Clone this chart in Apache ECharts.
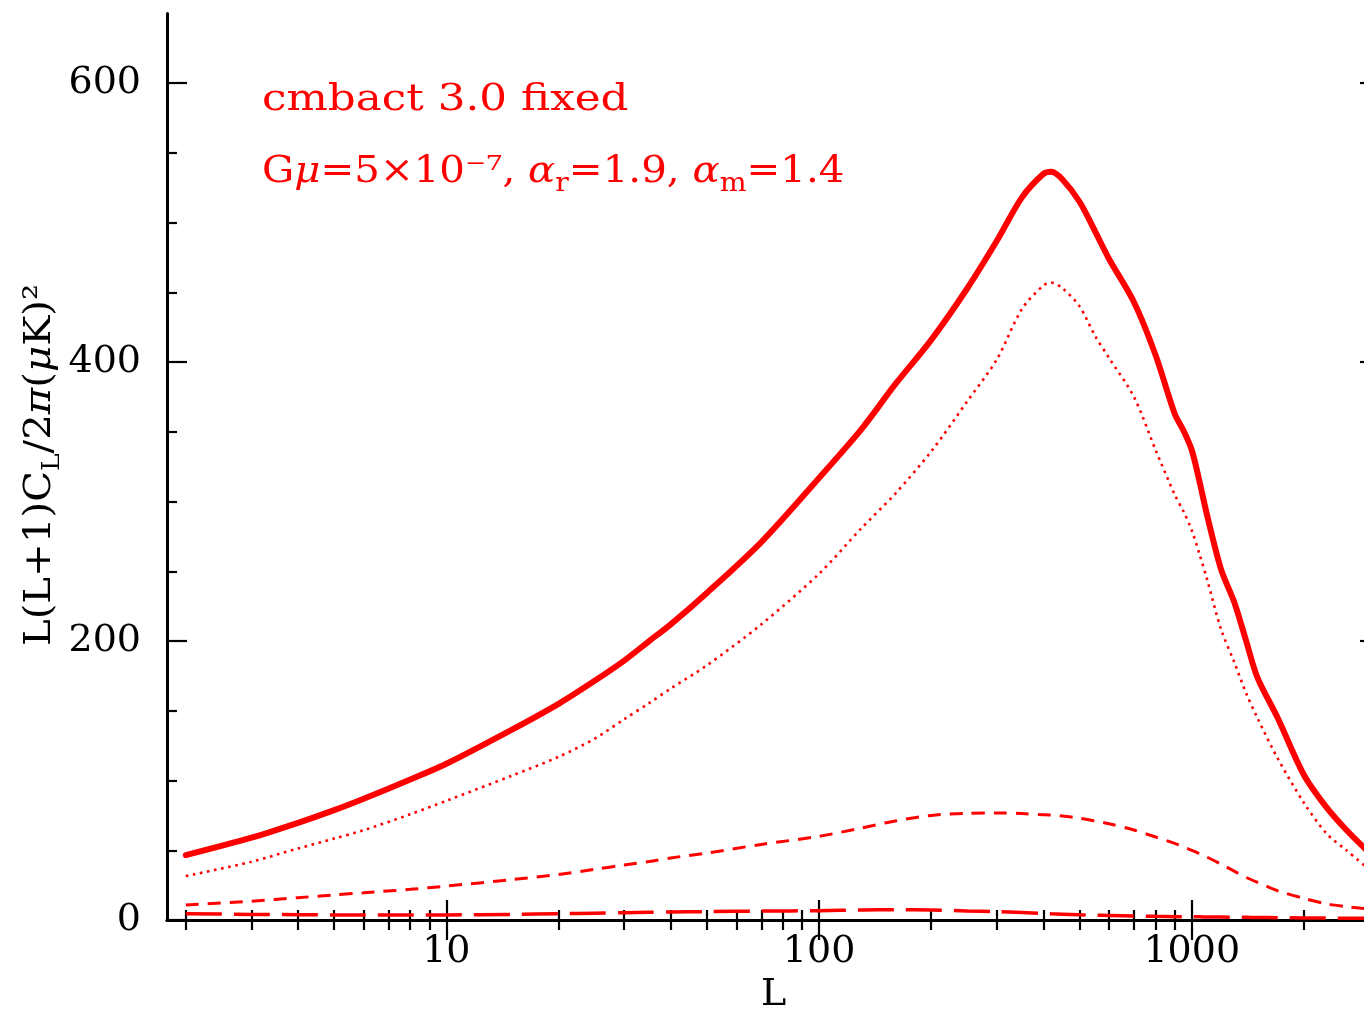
<!DOCTYPE html>
<html>
<head>
<meta charset="utf-8">
<script src="https://cdn.jsdelivr.net/npm/echarts@6/dist/echarts.min.js"></script>
<style>
html,body{margin:0;padding:0;background:#fff;overflow:hidden;width:1364px;height:1013px;}
#chart{position:absolute;left:0;top:0;width:1364px;height:1013px;overflow:hidden;}
</style>
</head>
<body>
<div id="chart"></div>
<script>
// Multipole L
const L = [2, 3, 4, 5, 6, 8, 10, 15, 20, 25, 30, 35, 40, 50, 70, 100, 130, 160, 200, 250, 300, 350, 400, 420, 450, 500, 550, 600, 700, 800, 900, 950, 1000, 1050, 1100, 1200, 1300, 1400, 1500, 1700, 2000, 2300, 2600, 3000];
// total (thick solid)
const total = [46.5, 59, 69.7, 78.8, 87, 100.7, 112, 136.5, 155, 171.5, 186, 200, 212, 234.5, 271, 317, 352, 384, 416, 453, 487, 518, 535, 536.5, 531, 515, 494, 474, 443, 405, 363, 351, 337, 314, 290, 251, 228, 200, 174, 145, 104, 80.7, 64.5, 48];
// dotted component
const dotted = [31.5, 41.8, 51.3, 58.4, 64.4, 75.8, 85.5, 103.5, 117, 130, 144, 155.5, 166, 182.6, 212, 248.3, 281, 305.6, 336, 372, 402, 438, 455, 457, 453, 440, 419, 403, 375, 337, 305, 293, 279.5, 262, 244, 208, 185, 162.5, 145, 116, 84, 62, 50, 36];
// short-dashed component
const dashed = [10.7, 13.5, 16, 18, 19.5, 22, 24.3, 29, 32.7, 36.3, 39.5, 42, 44.5, 48, 54.2, 60, 66, 71, 75, 76.5, 76.8, 76.3, 75.5, 75.2, 74.5, 73, 71, 69, 64.5, 59.5, 55, 52.5, 50, 47.5, 45, 40, 35, 30.5, 27, 21, 15.5, 11.6, 9.6, 7.8];
// long-dashed component
const longDashed = [4.5, 4, 3.8, 3.6, 3.5, 3.5, 3.6, 4, 4.5, 4.9, 5.2, 5.5, 5.7, 6, 6.4, 6.7, 7.2, 7.4, 7.2, 6.5, 6, 5.3, 4.6, 4.4, 4.2, 3.8, 3.5, 3.3, 2.9, 2.6, 2.4, 2.35, 2.3, 2.25, 2.2, 2.1, 2, 1.9, 1.8, 1.7, 1.5, 1.4, 1.3, 1.2];

const xMajorTicks = [10, 100, 1000];
const xMinorTicks = [2, 3, 4, 5, 6, 7, 8, 9, 20, 30, 40, 50, 60, 70, 80, 90, 200, 300, 400, 500, 600, 700, 800, 900, 2000, 3000];
const yMajorTicks = [0, 200, 400, 600];
const yMinorTicks = [50, 100, 150, 250, 300, 350, 450, 500, 550];

const FONT = '"DejaVu Serif", "Liberation Serif", serif';
const RED = '#ff0000';
const X_MIN = 1.78, X_MAX = 3200, Y_MIN = 0, Y_MAX = 650;

const chart = echarts.init(document.getElementById('chart'), null, {renderer: 'canvas', width: 1364, height: 1013});

function xAxisDef(pos, ticks, len, labels) {
  return {
    type: 'log', logBase: 10, position: pos, min: X_MIN, max: X_MAX, gridIndex: 0,
    axisLine: {show: true, lineStyle: {color: '#000', width: 3}},
    axisTick: {show: true, inside: true, length: len, customValues: ticks, lineStyle: {color: '#000', width: 2.2}},
    axisLabel: labels ? {show: true, customValues: labels, margin: 13, color: '#000', fontFamily: FONT, fontSize: 38,
      formatter: v => String(Math.round(v))} : {show: false},
    splitLine: {show: false}, minorTick: {show: false}
  };
}
function yAxisDef(pos, ticks, len, labels) {
  return {
    type: 'value', position: pos, min: Y_MIN, max: Y_MAX, gridIndex: 0,
    axisLine: {show: true, onZero: false, lineStyle: {color: '#000', width: 3}},
    axisTick: {show: true, inside: true, length: len, customValues: ticks, lineStyle: {color: '#000', width: 2.2}},
    axisLabel: labels ? {show: true, customValues: labels, margin: 26, color: '#000', fontFamily: FONT, fontSize: 38,
      formatter: v => String(v)} : {show: false},
    splitLine: {show: false}
  };
}

const xAxes = [
  xAxisDef('bottom', xMajorTicks, 20, xMajorTicks),
  xAxisDef('bottom', xMinorTicks, 10, null),
  xAxisDef('top', xMajorTicks, 20, null),
  xAxisDef('top', xMinorTicks, 10, null)
];
xAxes[0].name = 'L';
xAxes[0].nameLocation = 'middle';
xAxes[0].nameGap = 56;
xAxes[0].nameTextStyle = {fontFamily: FONT, fontSize: 38, color: '#000'};
xAxes[1].axisLine = {show: false};
xAxes[3].axisLine = {show: false};

const yAxes = [
  yAxisDef('left', yMajorTicks, 20, yMajorTicks),
  yAxisDef('left', yMinorTicks, 10, null),
  yAxisDef('right', yMajorTicks, 20, null),
  yAxisDef('right', yMinorTicks, 10, null)
];
yAxes[1].axisLine = {show: false};
yAxes[3].axisLine = {show: false};

function pts(vals) { return L.map((l, i) => [l, vals[i]]); }

const lineBase = {type: 'line', xAxisIndex: 0, yAxisIndex: 0, showSymbol: false, symbol: 'none', smooth: 0.3, clip: true, silent: true, animation: false};

const option = {
  animation: false,
  backgroundColor: '#fff',
  grid: {left: 167, top: 13.5, width: 1213, height: 906.5, containLabel: false, outerBoundsMode: 'none'},
  xAxis: xAxes,
  yAxis: yAxes,
  series: [
    Object.assign({}, lineBase, {name: 'total', data: pts(total), z: 5,
      lineStyle: {color: RED, width: 6, type: 'solid', cap: 'round', join: 'round'}}),
    Object.assign({}, lineBase, {name: 'dotted', data: pts(dotted), z: 4,
      lineStyle: {color: RED, width: 2.6, type: [2.6, 4.6]}}),
    Object.assign({}, lineBase, {name: 'dashed', data: pts(dashed), z: 4,
      lineStyle: {color: RED, width: 3, type: [13, 9]}}),
    Object.assign({}, lineBase, {name: 'longDashed', data: pts(longDashed), z: 4,
      lineStyle: {color: RED, width: 3.5, type: [36, 12]}})
  ],
  graphic: [
    {type: 'text', x: 262, y: 100, scaleX: 1.18, silent: true,
      style: {text: 'cmbact 3.0 fixed', font: '37px ' + FONT, fill: RED, align: 'left', verticalAlign: 'middle'}},
    {type: 'text', x: 262, y: 172, scaleX: 1.09, silent: true,
      style: {
        text: '{n|G}{it|μ}{n|=5×10⁻⁷, }{it|α}{sub|r}{n|=1.9, }{it|α}{sub|m}{n|=1.4}',
        fill: RED, font: '37px ' + FONT, align: 'left', verticalAlign: 'middle',
        rich: {
          n: {fontFamily: FONT, fontSize: 37, lineHeight: 50, verticalAlign: 'middle', fill: RED},
          it: {fontFamily: FONT, fontSize: 37, fontStyle: 'italic', lineHeight: 50, verticalAlign: 'middle', fill: RED},
          sub: {fontFamily: FONT, fontSize: 26, lineHeight: 26, verticalAlign: 'bottom', fill: RED}
        }
      }},
    {type: 'text', x: 40, y: 465, rotation: Math.PI / 2, scaleX: 1.06, silent: true,
      style: {
        text: '{n|L(L+1)C}{sub|L}{n|/2}{it|π}{n|(}{it|μ}{n|K)²}',
        align: 'center', verticalAlign: 'middle', fill: '#000', font: '38px ' + FONT,
        rich: {
          n: {fontFamily: FONT, fontSize: 38, lineHeight: 50, verticalAlign: 'middle', fill: '#000'},
          it: {fontFamily: FONT, fontSize: 38, fontStyle: 'italic', lineHeight: 50, verticalAlign: 'middle', fill: '#000'},
          sub: {fontFamily: FONT, fontSize: 25, lineHeight: 25, verticalAlign: 'bottom', fill: '#000'}
        }
      }}
  ]
};
chart.setOption(option);
</script>
</body>
</html>
